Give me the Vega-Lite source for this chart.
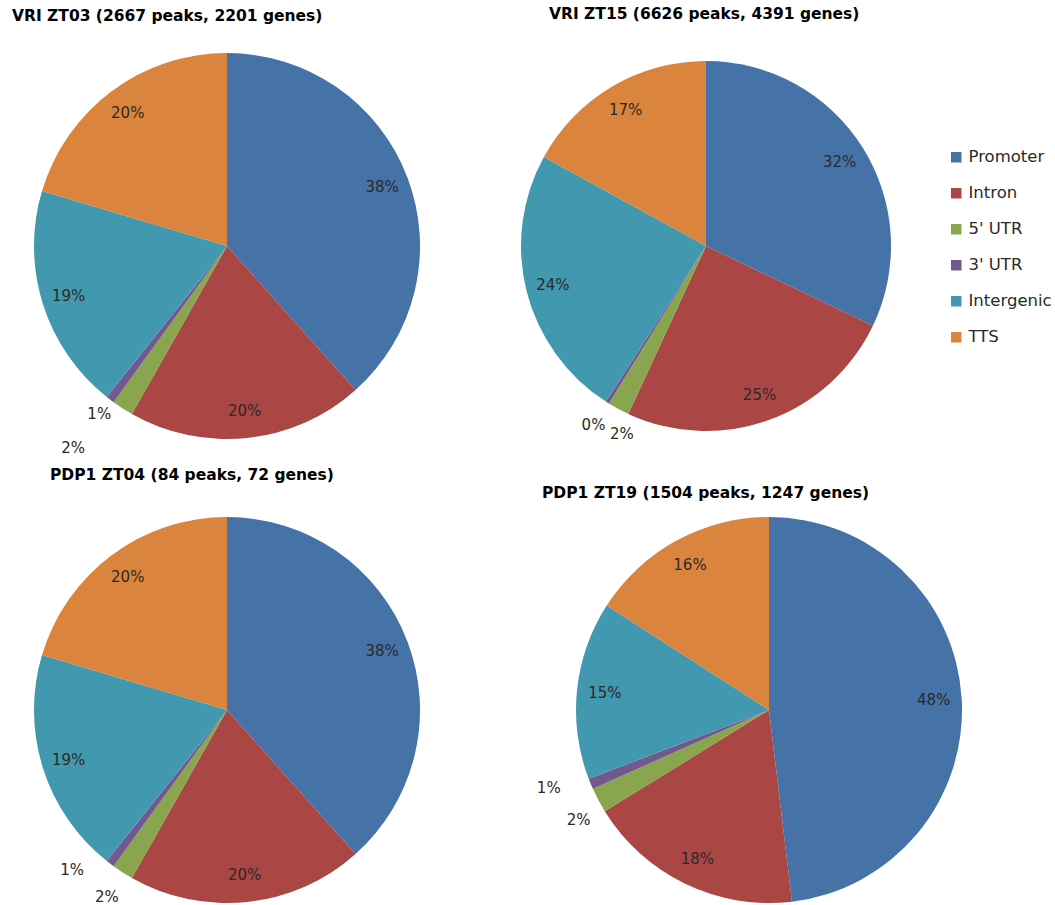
{
  "$schema": "https://vega.github.io/schema/vega-lite/v6.json",
  "background": "white",
  "autosize": {"type": "none"},
  "padding": {"left": 27, "top": 46, "right": 1028, "bottom": 859},
  "config": {
    "view": {"stroke": null},
    "title": {"font": "DejaVu Sans", "fontWeight": "bold", "fontSize": 15.5, "color": "#000000", "anchor": "start", "frame": "group", "offset": 0},
    "text": {"font": "DejaVu Sans", "fontSize": 15, "fill": "#2a2a2a"}
  },
  "data": {
    "values": [
      {"panel": "VRI ZT03", "segment": "Promoter", "rank": 1, "share": 0.384},
      {"panel": "VRI ZT03", "segment": "Intron", "rank": 2, "share": 0.198},
      {"panel": "VRI ZT03", "segment": "5' UTR", "rank": 3, "share": 0.018},
      {"panel": "VRI ZT03", "segment": "3' UTR", "rank": 4, "share": 0.007},
      {"panel": "VRI ZT03", "segment": "Intergenic", "rank": 5, "share": 0.189},
      {"panel": "VRI ZT03", "segment": "TTS", "rank": 6, "share": 0.204},
      {"panel": "VRI ZT15", "segment": "Promoter", "rank": 1, "share": 0.321},
      {"panel": "VRI ZT15", "segment": "Intron", "rank": 2, "share": 0.248},
      {"panel": "VRI ZT15", "segment": "5' UTR", "rank": 3, "share": 0.019},
      {"panel": "VRI ZT15", "segment": "3' UTR", "rank": 4, "share": 0.003},
      {"panel": "VRI ZT15", "segment": "Intergenic", "rank": 5, "share": 0.239},
      {"panel": "VRI ZT15", "segment": "TTS", "rank": 6, "share": 0.170},
      {"panel": "PDP1 ZT04", "segment": "Promoter", "rank": 1, "share": 0.384},
      {"panel": "PDP1 ZT04", "segment": "Intron", "rank": 2, "share": 0.198},
      {"panel": "PDP1 ZT04", "segment": "5' UTR", "rank": 3, "share": 0.018},
      {"panel": "PDP1 ZT04", "segment": "3' UTR", "rank": 4, "share": 0.007},
      {"panel": "PDP1 ZT04", "segment": "Intergenic", "rank": 5, "share": 0.189},
      {"panel": "PDP1 ZT04", "segment": "TTS", "rank": 6, "share": 0.204},
      {"panel": "PDP1 ZT19", "segment": "Promoter", "rank": 1, "share": 0.481},
      {"panel": "PDP1 ZT19", "segment": "Intron", "rank": 2, "share": 0.181},
      {"panel": "PDP1 ZT19", "segment": "5' UTR", "rank": 3, "share": 0.021},
      {"panel": "PDP1 ZT19", "segment": "3' UTR", "rank": 4, "share": 0.009},
      {"panel": "PDP1 ZT19", "segment": "Intergenic", "rank": 5, "share": 0.149},
      {"panel": "PDP1 ZT19", "segment": "TTS", "rank": 6, "share": 0.159}
    ]
  },
  "resolve": {"scale": {"color": "shared"}, "legend": {"color": "shared"}},
  "columns": 2,
  "align": "each",
  "bounds": "flush",
  "spacing": {"row": 64, "column": 79},
  "concat": [
    {
      "width": 400, "height": 400,
      "title": {"text": "VRI ZT03  (2667 peaks, 2201 genes)", "dx": -15, "dy": 3},
      "transform": [{"filter": "datum.panel === 'VRI ZT03'"}],
      "encoding": {
        "theta": {"field": "share", "type": "quantitative", "stack": true},
        "order": {"field": "rank", "type": "quantitative"}
      },
      "layer": [
        {"mark": {"type": "arc", "outerRadius": 193},
         "encoding": {"color": {"field": "segment", "type": "nominal",
           "scale": {"domain": ["Promoter", "Intron", "5' UTR", "3' UTR", "Intergenic", "TTS"], "range": ["#4572A7", "#AA4643", "#89A54E", "#71588F", "#4198AF", "#DB843D"]},
           "legend": {"title": null, "orient": "none", "legendX": 921, "legendY": 103, "padding": 0, "symbolType": "square", "symbolSize": 110, "symbolStrokeWidth": 0, "labelFont": "DejaVu Sans", "labelFontSize": 16.5, "labelColor": "#2a2a2a", "labelOffset": 4, "rowPadding": 19}}}},
        {"mark": {"type": "text", "radius": 166},
         "encoding": {"text": {"condition": {"test": "datum.share < 0.05", "value": ""}, "field": "share", "type": "quantitative", "format": ".0%"}}},
        {"mark": {"type": "text", "radius": 211},
         "encoding": {"text": {"condition": {"test": "datum.segment !== \"3' UTR\"", "value": ""}, "field": "share", "type": "quantitative", "format": ".0%"}}},
        {"mark": {"type": "text", "radius": 253, "dx": -17, "dy": -11},
         "encoding": {"text": {"condition": {"test": "datum.segment !== \"5' UTR\"", "value": ""}, "field": "share", "type": "quantitative", "format": ".0%"}}}
      ]
    },
    {
      "width": 400, "height": 400,
      "title": {"text": "VRI ZT15  (6626 peaks, 4391 genes)", "dx": 43, "dy": -20},
      "transform": [{"filter": "datum.panel === 'VRI ZT15'"}],
      "encoding": {
        "theta": {"field": "share", "type": "quantitative", "stack": true},
        "order": {"field": "rank", "type": "quantitative"}
      },
      "layer": [
        {"mark": {"type": "arc", "outerRadius": 185},
         "encoding": {"color": {"field": "segment", "type": "nominal",
           "scale": {"domain": ["Promoter", "Intron", "5' UTR", "3' UTR", "Intergenic", "TTS"], "range": ["#4572A7", "#AA4643", "#89A54E", "#71588F", "#4198AF", "#DB843D"]}}}},
        {"mark": {"type": "text", "radius": 158},
         "encoding": {"text": {"condition": {"test": "datum.share < 0.05", "value": ""}, "field": "share", "type": "quantitative", "format": ".0%"}}},
        {"mark": {"type": "text", "radius": 211},
         "encoding": {"text": {"condition": {"test": "datum.segment !== \"3' UTR\"", "value": ""}, "field": "share", "type": "quantitative", "format": ".0%"}}},
        {"mark": {"type": "text", "radius": 205, "dx": 13, "dy": 7},
         "encoding": {"text": {"condition": {"test": "datum.segment !== \"5' UTR\"", "value": ""}, "field": "share", "type": "quantitative", "format": ".0%"}}}
      ]
    },
    {
      "width": 400, "height": 400,
      "title": {"text": "PDP1 ZT04 (84 peaks, 72 genes)", "dx": 23, "dy": -22},
      "transform": [{"filter": "datum.panel === 'PDP1 ZT04'"}],
      "encoding": {
        "theta": {"field": "share", "type": "quantitative", "stack": true},
        "order": {"field": "rank", "type": "quantitative"}
      },
      "layer": [
        {"mark": {"type": "arc", "outerRadius": 193},
         "encoding": {"color": {"field": "segment", "type": "nominal",
           "scale": {"domain": ["Promoter", "Intron", "5' UTR", "3' UTR", "Intergenic", "TTS"], "range": ["#4572A7", "#AA4643", "#89A54E", "#71588F", "#4198AF", "#DB843D"]}}}},
        {"mark": {"type": "text", "radius": 166},
         "encoding": {"text": {"condition": {"test": "datum.share < 0.05", "value": ""}, "field": "share", "type": "quantitative", "format": ".0%"}}},
        {"mark": {"type": "text", "radius": 221, "dx": -21, "dy": -16},
         "encoding": {"text": {"condition": {"test": "datum.segment !== \"3' UTR\"", "value": ""}, "field": "share", "type": "quantitative", "format": ".0%"}}},
        {"mark": {"type": "text", "radius": 222},
         "encoding": {"text": {"condition": {"test": "datum.segment !== \"5' UTR\"", "value": ""}, "field": "share", "type": "quantitative", "format": ".0%"}}}
      ]
    },
    {
      "width": 526, "height": 400,
      "title": {"text": "PDP1 ZT19 (1504 peaks, 1247 genes)", "dx": 36, "dy": 18},
      "transform": [{"filter": "datum.panel === 'PDP1 ZT19'"}],
      "encoding": {
        "theta": {"field": "share", "type": "quantitative", "stack": true},
        "order": {"field": "rank", "type": "quantitative"}
      },
      "layer": [
        {"mark": {"type": "arc", "outerRadius": 193},
         "encoding": {"color": {"field": "segment", "type": "nominal",
           "scale": {"domain": ["Promoter", "Intron", "5' UTR", "3' UTR", "Intergenic", "TTS"], "range": ["#4572A7", "#AA4643", "#89A54E", "#71588F", "#4198AF", "#DB843D"]}}}},
        {"mark": {"type": "text", "radius": 165},
         "encoding": {"text": {"condition": {"test": "datum.share < 0.05", "value": ""}, "field": "share", "type": "quantitative", "format": ".0%"}}},
        {"mark": {"type": "text", "radius": 233, "dx": -5, "dy": -11},
         "encoding": {"text": {"condition": {"test": "datum.segment !== \"3' UTR\"", "value": ""}, "field": "share", "type": "quantitative", "format": ".0%"}}},
        {"mark": {"type": "text", "radius": 220, "dx": 4, "dy": 7},
         "encoding": {"text": {"condition": {"test": "datum.segment !== \"5' UTR\"", "value": ""}, "field": "share", "type": "quantitative", "format": ".0%"}}}
      ]
    }
  ]
}
